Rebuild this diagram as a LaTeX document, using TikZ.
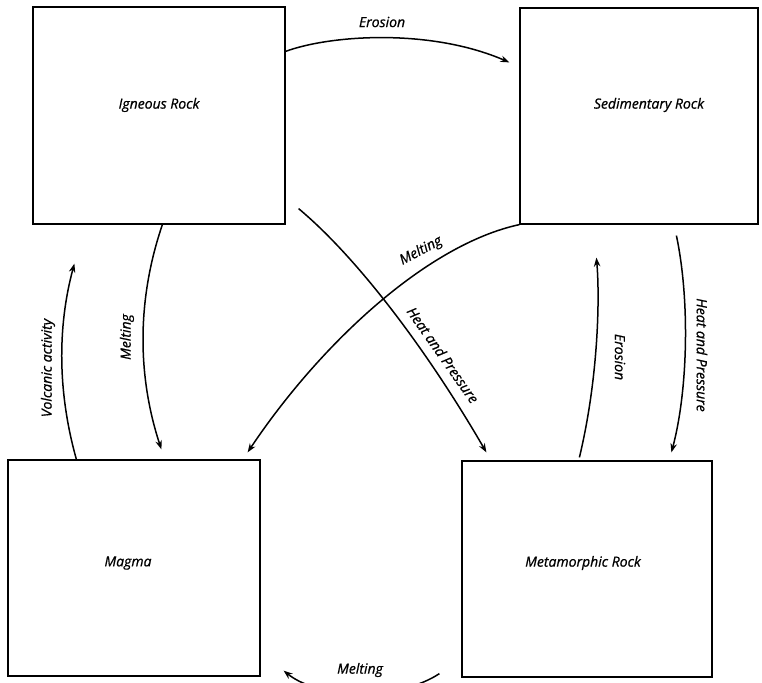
\documentclass[tikz,border=0pt]{standalone}
\usepackage{fontspec}
\setmainfont{Open Sans}[ItalicFeatures={FakeBold=0.8}]
\usetikzlibrary{calc,arrows.meta}
\begin{document}
\begin{tikzpicture}[x=1pt,y=-1pt,
  box/.style={draw, line width=1.2pt, inner sep=0pt},
  lab/.style={font=\itshape\fontsize{14}{16}\selectfont, inner sep=1pt},
  arr/.style={-{Stealth[length=9pt,width=6.5pt]}, line width=1.5pt}]
\useasboundingbox (0,0) rectangle (762,682);
% boxes
\node[box, minimum width=252pt, minimum height=217pt,
  label={[lab,yshift=10.5pt]center:Igneous Rock}] (ig) at (159,115.5) {};
\node[box, minimum width=238pt, minimum height=216pt,
  label={[lab,xshift=10pt,yshift=11pt]center:Sedimentary Rock}] (sed) at (639,116) {};
\node[box, minimum width=252pt, minimum height=216pt,
  label={[lab,xshift=-6pt,yshift=5pt]center:Magma}] (mag) at (134,568) {};
\node[box, minimum width=250pt, minimum height=216pt,
  label={[lab,xshift=-4pt,yshift=6pt]center:Metamorphic Rock}] (met) at (587,569) {};
% connectors
\draw[arr] ($(ig.north east)+(0,45)$) .. controls (330,35) and (430,28) .. ($(sed.north west)+(-10,55)$);
\draw[arr] ($(sed.south west)+(157,11)$) .. controls (690,300) and (688,390) .. ($(met.north west)+(210,-8)$);
\draw[arr] ($(met.north west)+(118,-3)$) .. controls (598,380) and (600,300) .. ($(sed.south west)+(77,33)$);
\draw[arr] ($(ig.south west)+(130,0)$) .. controls (137,299) and (137,375) .. ($(mag.north west)+(154,-10)$);
\draw[arr] ($(mag.north west)+(69,0)$) .. controls (58,394) and (57,328) .. ($(ig.south west)+(42,39)$);
\draw[arr] ($(ig.south east)+(13,-16)$) .. controls (360,260) and (430,355) .. ($(met.north west)+(25,-8)$);
\draw[arr] (sed.south west) .. controls (425,245) and (318,347) .. ($(mag.north east)+(-13,-7)$);
\draw[arr] ($(met.south west)+(-22,-4)$) .. controls (400,700) and (320,700) .. ($(mag.south east)+(23,-6)$);
% labels
\node[lab] (l1) at (382,22) {Erosion};
\node[lab, rotate=-90] (l2) at (702,355) {Heat and Pressure};
\node[lab, rotate=-90] (l3) at (620,357) {Erosion};
\node[lab, rotate=90] (l4) at (127,337) {Melting};
\node[lab, rotate=90] (l5) at (48,368) {Volcanic activity};
\node[lab, rotate=-55] (l6) at (443,355) {Heat and Pressure};
\node[lab, rotate=28] (l7) at (421,251) {Melting};
\node[lab] (l8) at (360,670) {Melting};
\end{tikzpicture}
\end{document}
